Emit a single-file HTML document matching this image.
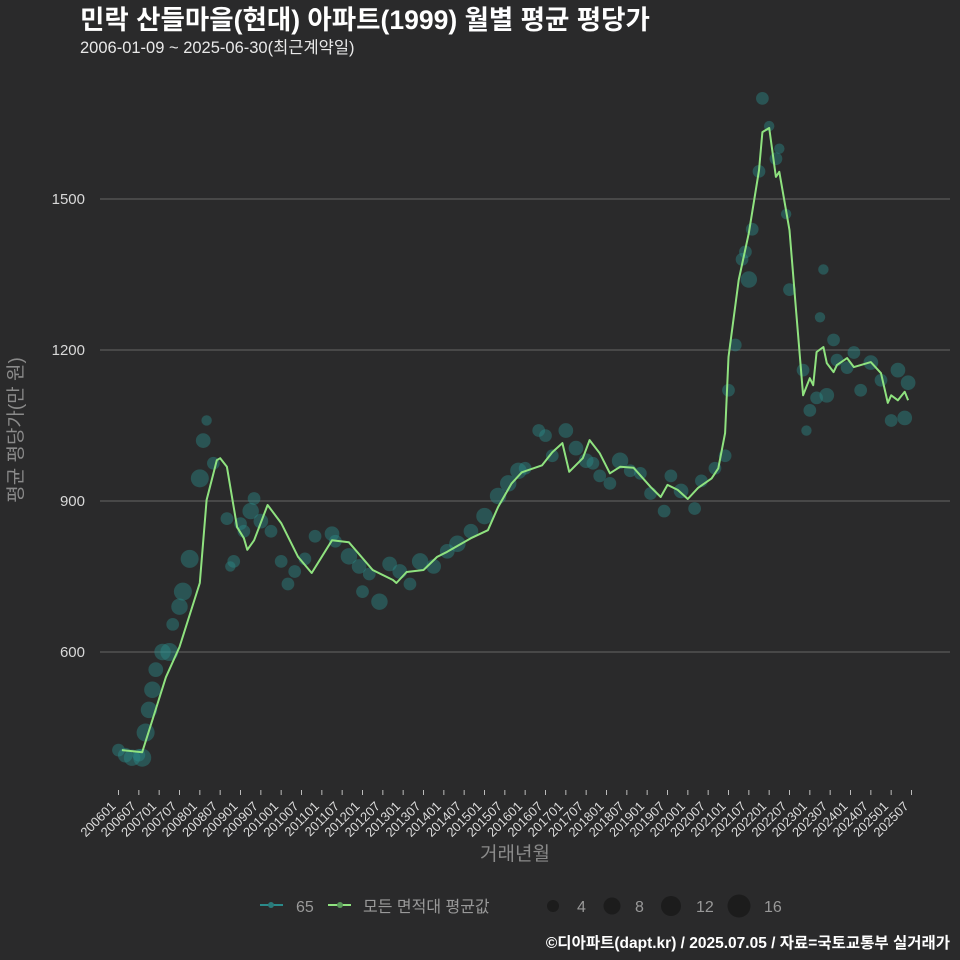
<!DOCTYPE html>
<html><head><meta charset="utf-8"><style>
body{margin:0;background:#2a2a2b;}
svg{display:block;font-family:"Liberation Sans","Noto Sans CJK KR",sans-serif;}
</style></head><body>
<svg id="chart" width="960" height="960" viewBox="0 0 960 960" xmlns="http://www.w3.org/2000/svg">
<rect width="960" height="960" fill="#2a2a2b"/>
<text x="80" y="29" fill="#ffffff" font-size="26.5" font-weight="bold">민락 산들마을(현대) 아파트(1999) 월별 평균 평당가</text>
<text x="80" y="53" fill="#e8e8e8" font-size="16.5">2006-01-09 ~ 2025-06-30(최근계약일)</text>
<g id="grid"></g>
<g id="yticks"></g>
<g id="bubbles"></g>
<path id="avgline" fill="none" stroke="#8fe27f" stroke-width="2" stroke-linejoin="round"/>
<g id="xticks"></g>
<text transform="translate(22,430) rotate(-90)" text-anchor="middle" fill="#8a8a8a" font-size="19">평균 평당가(만 원)</text>
<text x="515" y="860" text-anchor="middle" fill="#8a8a8a" font-size="19">거래년월</text>
<g>
<g><line x1="260" y1="905" x2="283" y2="905" stroke="#2a8a8a" stroke-width="2"/><circle cx="271" cy="905" r="3" fill="#2a7a7a"/><text x="296" y="912" fill="#999" font-size="16">65</text></g>
<g><line x1="328" y1="905" x2="351" y2="905" stroke="#8fe27f" stroke-width="2"/><circle cx="340" cy="905" r="3" fill="#5a9a5a"/><text x="363" y="912" fill="#999" font-size="16">모든 면적대 평균값</text></g>
<g><circle cx="553" cy="906" r="6" fill="#1c1c1c"/><text x="577" y="912" fill="#999" font-size="16">4</text></g>
<g><circle cx="612" cy="906" r="8.5" fill="#1c1c1c"/><text x="635" y="912" fill="#999" font-size="16">8</text></g>
<g><circle cx="671" cy="906" r="10" fill="#1c1c1c"/><text x="696" y="912" fill="#999" font-size="16">12</text></g>
<g><circle cx="739" cy="906" r="11.5" fill="#1c1c1c"/><text x="764" y="912" fill="#999" font-size="16">16</text></g>
</g>
<text x="950" y="948" text-anchor="end" fill="#ffffff" font-size="15.5" font-weight="bold">©디아파트(dapt.kr) / 2025.07.05 / 자료=국토교통부 실거래가</text>
</svg>
<script>
const yTicks=[600,900,1200,1500];
const lineMonths=["200602","200608","200611","200703","200707","200801","200803","200806","200807","200809","200812","200902","200903","200905","200909","201001","201006","201010","201104","201109","201204","201210","201211","201302","201307","201311","201402","201409","201502","201505","201509","201512","201606","201609","201612","201702","201706","201708","201711","201802","201805","201809","201902","201905","201907","201910","202001","202004","202008","202010","202012","202101","202104","202107","202110","202111","202201","202203","202204","202207","202209","202211","202301","202302","202303","202305","202306","202308","202309","202312","202402","202404","202407","202410","202412","202501","202503","202505","202506"];
const lineValues=[405,401,465,550,610,737,902,981,985,968,848,826,803,822,892,856,789,757,822,818,763,743,737,759,763,789,799,826,842,888,935,957,971,997,1015,958,985,1021,995,955,968,966,928,908,932,922,904,926,945,965,1035,1186,1339,1432,1557,1633,1641,1544,1554,1438,1273,1110,1144,1130,1196,1206,1174,1156,1170,1184,1166,1170,1176,1154,1095,1110,1100,1117,1100];
const bubbleMonths=["200601","200603","200605","200607","200608","200609","200610","200611","200612","200702","200704","200705","200707","200708","200710","200801","200802","200803","200805","200809","200810","200811","200901","200902","200904","200905","200907","200910","201001","201003","201005","201008","201011","201104","201105","201109","201112","201201","201203","201206","201209","201212","201303","201306","201310","201402","201405","201409","201501","201505","201508","201511","201601","201605","201607","201609","201701","201704","201707","201709","201711","201802","201805","201808","201811","201902","201906","201908","201911","202003","202005","202009","202012","202101","202103","202105","202106","202107","202108","202110","202111","202201","202203","202204","202206","202207","202211","202212","202301","202303","202304","202305","202306","202308","202309","202312","202402","202404","202407","202410","202501","202503","202505","202506"];
const bubbleValues=[405,395,390,395,390,440,485,525,565,600,600,655,690,720,785,945,1020,1060,975,865,770,780,855,840,880,905,860,840,780,735,760,785,830,835,820,790,770,720,755,700,775,760,735,780,770,800,815,840,870,910,935,960,965,1040,1030,990,1040,1005,980,975,950,935,980,960,955,915,880,950,920,885,940,965,990,1120,1210,1380,1395,1340,1440,1555,1700,1645,1580,1600,1470,1320,1160,1040,1080,1105,1265,1360,1110,1220,1180,1165,1195,1120,1175,1140,1060,1160,1065,1135];
const bubbleCounts=[6,8,10,6,12,12,10,10,8,10,12,6,10,12,12,12,8,4,6,6,4,6,6,6,10,6,8,6,6,6,6,6,6,8,6,10,8,6,6,10,8,8,6,10,8,8,10,8,10,10,10,10,6,6,6,6,8,8,8,6,6,6,10,6,6,6,6,6,8,6,6,6,6,6,6,6,6,10,6,6,6,4,6,4,4,6,6,4,6,6,4,4,8,6,6,6,6,6,8,6,6,8,8,8];
const xTickLabels=[];for(let y=2006;y<=2025;y++){xTickLabels.push(y+"01");xTickLabels.push(y+"07");}
const NS="http://www.w3.org/2000/svg";
function mIdx(s){return (+s.slice(0,4)-2006)*12+(+s.slice(4))-1;}
function xS(s){return 118.5+mIdx(s)*(911.5-118.5)/234;}
function yS(v){return 199+(1500-v)*151/300;}
function mk(t,a,p){const e=document.createElementNS(NS,t);for(const k in a)e.setAttribute(k,a[k]);p.appendChild(e);return e;}
const grid=document.getElementById('grid'),yt=document.getElementById('yticks');
yTicks.forEach(v=>{
 const l=mk('line',{x1:100,x2:950,y1:yS(v),y2:yS(v),stroke:'#5a5a5a','stroke-width':1.3},grid);
 
 
 const t=mk('text',{x:85,y:yS(v)+5,'text-anchor':'end',fill:'#d8d8d8','font-size':15},yt);t.textContent=v;
 
 
});
const bg=document.getElementById('bubbles');
bubbleMonths.forEach((m,i)=>{
 const c=mk('circle',{cx:xS(m),cy:yS(bubbleValues[i]),r:2.6*Math.sqrt(bubbleCounts[i]),fill:'#2a8f8c','fill-opacity':0.42},bg);
 
 
});
document.getElementById('avgline').setAttribute('d',lineMonths.map((m,i)=>(i?'L':'M')+xS(m).toFixed(1)+','+yS(lineValues[i]).toFixed(1)).join(''));
const xt=document.getElementById('xticks');
xTickLabels.forEach(s=>{
 if(mIdx(s)>234)return;
 const x=xS(s);
 const tk=mk('line',{x1:x,x2:x,y1:790,y2:795,stroke:'#bbb','stroke-width':1},xt);
 
 
 const t=mk('text',{transform:`translate(${x-2},${807}) rotate(-45)`,'text-anchor':'end',fill:'#dddddd','font-size':13},xt);t.textContent=s;
 
 
});
</script>
</body></html>
